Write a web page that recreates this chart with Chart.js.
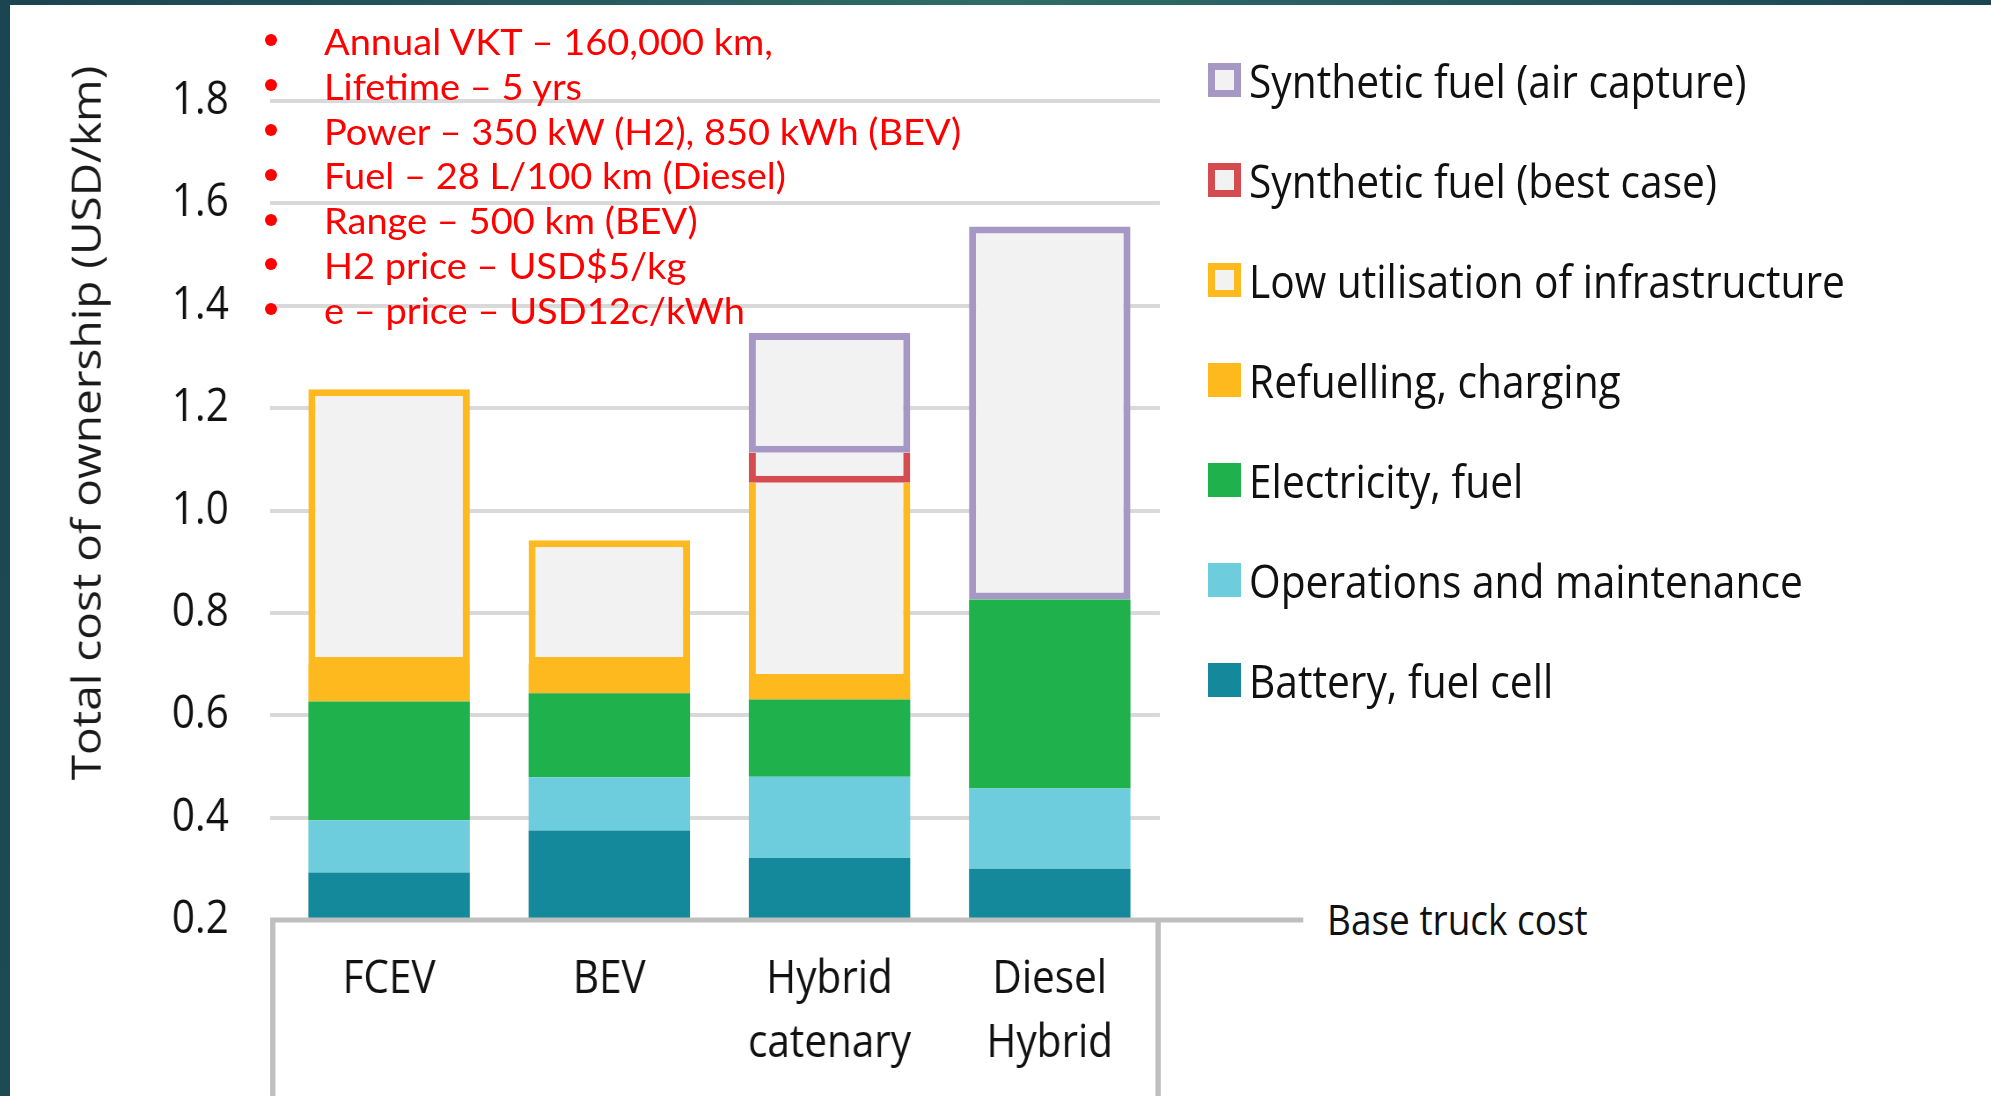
<!DOCTYPE html>
<html>
<head>
<meta charset="utf-8">
<title>Total cost of ownership</title>
<script src="https://cdn.jsdelivr.net/npm/chart.js@4.4.1/dist/chart.umd.min.js"></script>
<style>
  html, body { margin: 0; padding: 0; }
  body {
    width: 1991px; height: 1096px; position: relative; overflow: hidden;
    background: #fff; font-family: "Open Sans", sans-serif; color: #111;
  }
  #frameTop { position: absolute; left: 0; top: 0; width: 1991px; height: 5px; z-index: 5;
    background: linear-gradient(90deg, #1b4350, #2f6c68 50%, #1b4552); }
  #frameLeft { position: absolute; left: 0; top: 0; width: 10px; height: 1096px; z-index: 5;
    background: linear-gradient(180deg, #1b4552, #1c4b55); }
  /* the source picture is squeezed sideways, so the plot is drawn wide and pressed back */
  #plotWrap { position: absolute; left: 0; top: 0; width: 1490px; height: 1096px;
    transform: scaleX(0.88); transform-origin: 0 0; }
  #yTitle { position: absolute; left: -315px; top: 393px; width: 800px; height: 60px;
    line-height: 60px; text-align: center; font-size: 46px; white-space: nowrap;
    color: #1a1a1a; transform: scaleX(0.88) rotate(-90deg); }
  #notes { position: absolute; left: 0; top: 19px; }
  #notes .line { position: relative; height: 44.8px; width: 900px; }
  #notes .dot { position: absolute; left: 264.7px; top: 15.4px; width: 12px; height: 12px;
    border-radius: 50%; background: #ff0000; }
  #notes .txt { position: absolute; left: 324px; top: 0; line-height: 44.8px;
    font-family: Lato, sans-serif; font-size: 37px; color: #ff0000; white-space: nowrap;
    transform: scaleX(1.027); transform-origin: 0 50%; }
  #legend { position: absolute; left: 1208px; top: 30.4px; }
  #legend .item { height: 99.9px; display: flex; align-items: center; }
  #legend .swatch { width: 33px; height: 34px; box-sizing: border-box; flex: none; }
  #legend .label { margin-left: 8px; font-size: 46px; white-space: nowrap; color: #111;
    transform: scaleX(0.885); transform-origin: 0 50%; }
  #baseLabel { position: absolute; left: 1327px; top: 889px; height: 60px; line-height: 60px;
    font-size: 42px; white-space: nowrap; color: #111;
    transform: scaleX(0.88); transform-origin: 0 50%; }
</style>
</head>
<body>
<div id="frameTop"></div>
<div id="frameLeft"></div>
<div id="plotWrap"><canvas id="tco" width="1490" height="1096"></canvas></div>
<div id="yTitle">Total cost of ownership (USD/km)</div>
<div id="notes"></div>
<div id="legend"></div>
<div id="baseLabel">Base truck cost</div>

<script>
// values, USD/km, each segment stacked on the base truck cost
const categories = ['FCEV', 'BEV', ['Hybrid', 'catenary'], ['Diesel', 'Hybrid']];
const baseTruckCost = 0.2;
const batteryFuelCell = [0.093, 0.175, 0.121, 0.100];
const operationsMaintenance = [0.102, 0.104, 0.159, 0.157];
const electricityFuel = [0.232, 0.164, 0.151, 0.369];
const refuellingCharging = [0.073, 0.057, 0.036, 0];
const lowUtilisation = [0.537, 0.242, 0.387, 0];
const synthFuelBestCase = [0, 0, 0.059, 0];
const synthFuelAirCapture = [0, 0, 0.234, 0.729];
const yTickValues = [0.2, 0.4, 0.6, 0.8, 1.0, 1.2, 1.4, 1.6, 1.8];

const seriesNames = [
  'Battery, fuel cell',
  'Operations and maintenance',
  'Electricity, fuel',
  'Refuelling, charging',
  'Low utilisation of infrastructure',
  'Synthetic fuel (best case)',
  'Synthetic fuel (air capture)'
];
const seriesValues = [batteryFuelCell, operationsMaintenance, electricityFuel, refuellingCharging,
  lowUtilisation, synthFuelBestCase, synthFuelAirCapture];
const seriesColors = ['#14899b', '#6ecddd', '#1fb14b', '#fdb91e', '#fdb91e', '#d44c50', '#a797c5'];
const seriesHollow = [false, false, false, false, true, true, true];
const hollowFill = '#f2f2f2';

const notes = [
  'Annual VKT \u2013 160,000 km,',
  'Lifetime \u2013 5 yrs',
  'Power \u2013 350 kW (H2), 850 kWh (BEV)',
  'Fuel \u2013 28 L/100 km (Diesel)',
  'Range \u2013 500 km (BEV)',
  'H2 price \u2013 USD$5/kg',
  'e \u2013 price \u2013 USD12c/kWh'
];

// floating [from, to] ranges, stacked up from the base truck cost
const running = categories.map(() => baseTruckCost);
const datasets = seriesValues.map((vals, k) => {
  const data = vals.map((v, i) => {
    if (!v) return null;
    const from = running[i];
    running[i] = from + v;
    return [from, running[i]];
  });
  const ds = {
    label: seriesNames[k],
    data: data,
    backgroundColor: seriesHollow[k] ? hollowFill : seriesColors[k],
    borderColor: seriesColors[k],
    borderWidth: seriesHollow[k] ? { top: 7, bottom: 7, left: 8, right: 8 } : 0
  };
  if (seriesHollow[k]) {
    // open on top when another outlined box sits right above it
    ds.borderSkipped = ctx => seriesValues.slice(k + 1).some(a => a[ctx.dataIndex] > 0) ? 'top' : false;
  }
  return ds;
});

const baseFrame = {
  id: 'baseFrame',
  afterDraw(chart) {
    const { ctx, chartArea } = chart;
    const y = chart.scales.y.getPixelForValue(baseTruckCost);
    const left = chartArea.left - 10;
    ctx.save();
    ctx.fillStyle = '#bfbfbf';
    ctx.fillRect(left, y - 2.5, chart.width - 9 - left, 5);
    ctx.fillRect(left, y, 6, chart.height - y);
    ctx.fillRect(chartArea.right - 5, y, 6, chart.height - y);
    ctx.restore();
  }
};

new Chart(document.getElementById('tco'), {
  type: 'bar',
  data: { labels: categories, datasets: datasets },
  plugins: [baseFrame],
  options: {
    responsive: false,
    animation: false,
    layout: { padding: { top: 101, right: 172, bottom: 0, left: 0 } },
    datasets: { bar: { grouped: false, categoryPercentage: 1, barPercentage: 0.733 } },
    plugins: { legend: { display: false }, tooltip: { enabled: false } },
    scales: {
      x: {
        grid: { display: false, drawTicks: false },
        border: { display: false },
        ticks: {
          color: '#111', padding: 28, maxRotation: 0, autoSkip: false,
          font: { family: 'Open Sans', size: 46, lineHeight: '64px' }
        },
        afterFit(scale) { scale.height = 176; }
      },
      y: {
        min: 0.2, max: 1.8,
        grid: { color: '#d9d9d9', lineWidth: 4, drawTicks: true, tickLength: 10 },
        border: { display: false },
        ticks: {
          color: '#111', padding: 47,
          font: { family: 'Open Sans', size: 46 },
          callback: v => v.toFixed(1)
        },
        afterBuildTicks(scale) { scale.ticks = yTickValues.map(v => ({ value: v })); },
        afterFit(scale) { scale.width = 317; }
      }
    }
  }
});

// red notes
const notesEl = document.getElementById('notes');
notes.forEach(t => {
  const line = document.createElement('div');
  line.className = 'line';
  line.innerHTML = '<span class="dot"></span><span class="txt"></span>';
  line.querySelector('.txt').textContent = t;
  notesEl.appendChild(line);
});

// legend, top of the stack first
const legendEl = document.getElementById('legend');
seriesNames.map((name, k) => k).reverse().forEach(k => {
  const item = document.createElement('div');
  item.className = 'item';
  const sw = document.createElement('span');
  sw.className = 'swatch';
  if (seriesHollow[k]) {
    sw.style.background = hollowFill;
    sw.style.border = '7px solid ' + seriesColors[k];
  } else {
    sw.style.background = seriesColors[k];
  }
  const lab = document.createElement('span');
  lab.className = 'label';
  lab.textContent = seriesNames[k];
  item.appendChild(sw);
  item.appendChild(lab);
  legendEl.appendChild(item);
});
</script>
</body>
</html>
